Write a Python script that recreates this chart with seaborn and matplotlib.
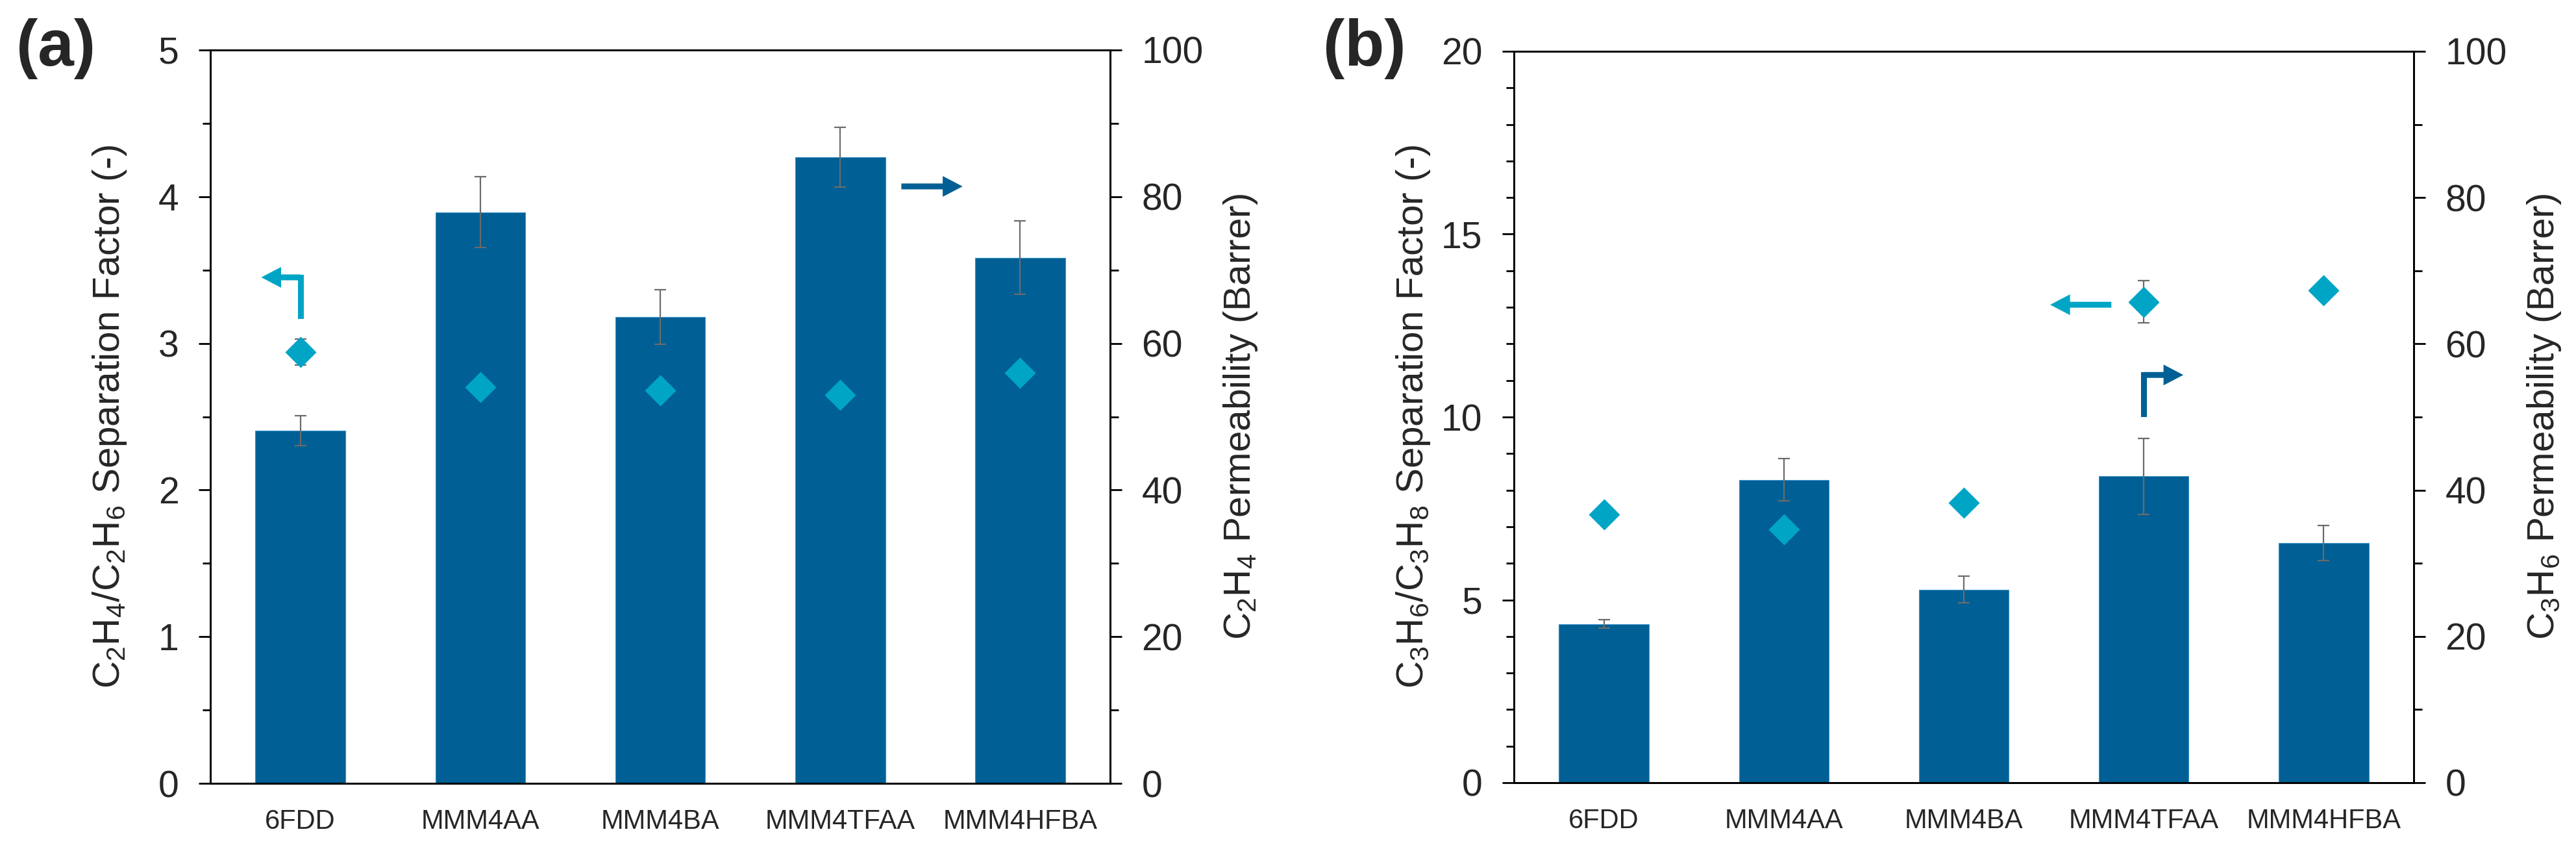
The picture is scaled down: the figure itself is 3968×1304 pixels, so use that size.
import matplotlib
matplotlib.use("Agg")
import matplotlib.pyplot as plt
import seaborn as sns
from matplotlib.patches import FancyArrowPatch, ArrowStyle
from matplotlib.ticker import MultipleLocator

# membranes on the x axis
membranes = ["6FDD", "MMM4AA", "MMM4BA", "MMM4TFAA", "MMM4HFBA"]

# (a) C2H4/C2H6: permeability bars (right axis) and separation factor diamonds (left axis)
c2h4_perm = [48.1, 77.9, 63.6, 85.4, 71.7]
c2h4_perm_err = [2.0, 4.8, 3.7, 4.1, 5.0]
c2_sep = [2.94, 2.70, 2.68, 2.65, 2.80]
c2_sep_err = [0.09, 0.0, 0.0, 0.0, 0.0]

# (b) C3H6/C3H8
c3h6_perm = [21.7, 41.4, 26.4, 41.9, 32.8]
c3h6_perm_err = [0.6, 2.9, 1.8, 5.2, 2.4]
c3_sep = [7.33, 6.93, 7.66, 13.15, 13.47]
c3_sep_err = [0.0, 0.0, 0.0, 0.58, 0.0]

bar_color = "#005f94"
dia_color = "#00a5c6"
err_color = "#6b6b6b"

sns.set_style("ticks")
plt.rcParams["font.family"] = ["Liberation Sans", "DejaVu Sans"]
plt.rcParams["mathtext.default"] = "regular"

fig = plt.figure(figsize=(39.68, 13.04), dpi=100)


def panel(rect, perm, perm_err, sep, sep_err, sep_max, sep_major, sep_minor,
          sep_label, perm_label):
    ax = fig.add_axes(rect)
    ax2 = ax.twinx()

    # bars on the right (permeability) axis
    sns.barplot(x=membranes, y=perm, ax=ax2, color=bar_color, saturation=1,
                width=0.5, errorbar=None, edgecolor="#3a94c8", linewidth=0.8)
    ax2.errorbar(range(len(membranes)), perm, yerr=perm_err, fmt="none",
                 ecolor=err_color, elinewidth=1.6, capsize=6.8, capthick=1.6)

    # diamonds on the left (separation factor) axis, drawn above the bars
    ax.errorbar(range(len(membranes)), sep, yerr=sep_err, fmt="none",
                ecolor=err_color, elinewidth=1.6, capsize=6.8, capthick=1.6,
                zorder=2)
    sns.scatterplot(x=list(range(len(membranes))), y=sep, ax=ax, marker="D",
                    s=600, color=dia_color, linewidth=0, zorder=3)
    ax.set_zorder(ax2.get_zorder() + 1)
    ax.patch.set_visible(False)

    ax.set_xlim(-0.5, len(membranes) - 0.5)
    ax.set_ylim(0, sep_max)
    ax2.set_ylim(0, 100)
    ax.yaxis.set_major_locator(MultipleLocator(sep_major))
    ax.yaxis.set_minor_locator(MultipleLocator(sep_minor))
    ax2.yaxis.set_major_locator(MultipleLocator(20))
    ax2.yaxis.set_minor_locator(MultipleLocator(10))
    ax.set_xticks(range(len(membranes)))
    ax.set_xticklabels(membranes)

    for a in (ax, ax2):
        a.tick_params(axis="y", which="major", direction="out", length=13,
                      width=2, labelsize=41, pad=22, color="black")
        a.tick_params(axis="y", which="minor", direction="out", length=9,
                      width=2, color="black")
        for s in a.spines.values():
            s.set_linewidth(2)
            s.set_color("black")
    ax.tick_params(axis="x", length=0, labelsize=30, pad=28)

    ax.set_ylabel(sep_label, fontsize=42, va="center")
    ax.yaxis.set_label_coords(-0.112, 0.5)
    ax2.set_ylabel(perm_label, fontsize=42, va="center", rotation=90)
    ax2.yaxis.set_label_coords(1.145, 0.5)
    ax.set_xlabel("")
    ax2.set_xlabel("")
    return ax


def straight_arrow(ax, x0, x1, y, color):
    style = ArrowStyle.Simple(head_length=22, head_width=23, tail_width=6.5)
    ax.add_patch(FancyArrowPatch((x0, y), (x1, y), arrowstyle=style,
                                 mutation_scale=1, color=color, lw=0,
                                 shrinkA=0, shrinkB=0, zorder=5))


def bent_arrow(ax, x0, y0, y_corner, x_tip, color):
    ax.plot([x0, x0], [y0, y_corner], color=color, lw=6.5,
            solid_capstyle="projecting", zorder=5)
    straight_arrow(ax, x0, x_tip, y_corner, color)


ax_a = panel([324 / 3968, 98 / 1304, 1386 / 3968, 1129 / 1304],
             c2h4_perm, c2h4_perm_err, c2_sep, c2_sep_err, 5, 1, 0.5,
             r"C$_2$H$_4$/C$_2$H$_6$ Separation Factor (-)",
             r"C$_2$H$_4$ Permeability (Barrer)")
bent_arrow(ax_a, 0.0, 3.19, 3.45, -0.217, dia_color)
straight_arrow(ax_a, 3.34, 3.68, 4.07, bar_color)

ax_b = panel([2332 / 3968, 99 / 1304, 1386 / 3968, 1126 / 1304],
             c3h6_perm, c3h6_perm_err, c3_sep, c3_sep_err, 20, 5, 1,
             r"C$_3$H$_6$/C$_3$H$_8$ Separation Factor (-)",
             r"C$_3$H$_6$ Permeability (Barrer)")
straight_arrow(ax_b, 2.82, 2.48, 13.07, dia_color)
bent_arrow(ax_b, 3.0, 10.08, 11.15, 3.22, bar_color)

fig.text(86 / 3968, 1 - 75 / 1304, "(a)", fontsize=72, fontweight="bold",
         ha="center", va="center")
fig.text(2102 / 3968, 1 - 75 / 1304, "(b)", fontsize=72, fontweight="bold",
         ha="center", va="center")

fig.savefig("out.png", dpi=100, facecolor="white")
